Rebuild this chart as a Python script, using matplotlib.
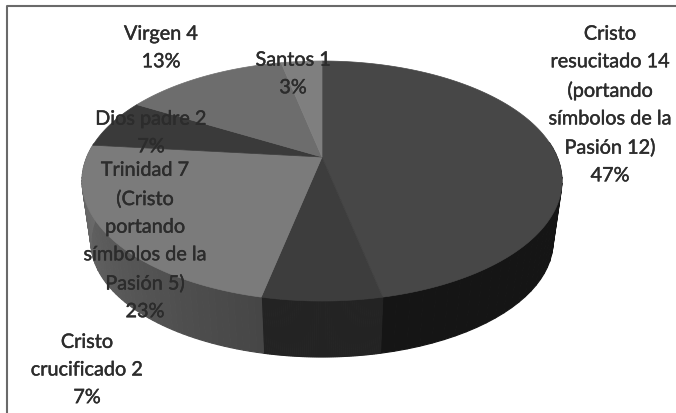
import matplotlib
matplotlib.use('Agg')
import matplotlib.pyplot as plt
import matplotlib.patheffects as pe
from matplotlib.patches import Polygon
import numpy as np

# Slice values, clockwise from 12 o'clock
values = [14, 2, 7, 2, 4, 1]
top_colors = ['#474747', '#3d3d3d', '#7b7b7b', '#3a3a3a', '#6d6d6d', '#7f7f7f']
side_dark = ['#151515', '#232323', '#464646', '#5a5a5a', '#5a5a5a', '#5a5a5a']
side_light = ['#151515', '#232323', '#6e6e6e', '#6e6e6e', '#6e6e6e', '#6e6e6e']

labels = ['Cristo\nresucitado 14\n(portando\nsímbolos de la\nPasión 12)\n47%',
          'Cristo\ncrucificado 2\n7%',
          'Trinidad 7\n(Cristo\nportando\nsímbolos de la\nPasión 5)\n23%',
          'Dios padre 2\n7%',
          'Virgen 4\n13%',
          'Santos 1\n3%']
label_x = [610, 87, 145, 151, 161, 293]
label_y = [106, 371, 242, 134, 49, 75]

# pie geometry in pixels
cx, cy, rx, ry = 322, 182, 240, 120
bx, by, brx, bry = 322, 243, 231, 115
tilt = 0.2   # moves the apex off the centre of the ellipse


def project(theta):
    # theta clockwise from the top, perspective map of the unit circle
    u, v = np.sin(theta), np.cos(theta)
    w = 1 + tilt * v
    return u * np.sqrt(1 - tilt**2) / w, (v + tilt) / w


def top_edge(theta):
    x, y = project(theta)
    return cx + rx * x, cy - ry * y


def bottom_edge(theta):
    x, y = project(theta)
    return bx + brx * x, by - bry * y


def mix(c1, c2, t):
    a = np.array(matplotlib.colors.to_rgb(c1))
    b = np.array(matplotlib.colors.to_rgb(c2))
    return a + (b - a) * t


fig = plt.figure(figsize=(6.76, 4.14), dpi=100)
ax = fig.add_axes([0, 0, 1, 1])
ax.set_xlim(0, 676)
ax.set_ylim(414, 0)
ax.axis('off')

# frame, only top and left are visible
ax.plot([7, 7, 676], [414, 7, 7], color='#6a6a6a', lw=1.5, zorder=1)

edges = np.cumsum([0] + values) / sum(values) * 2 * np.pi

# side wall, split in strips so the shading can change along it
for i in range(len(values)):
    th = np.linspace(edges[i], edges[i + 1], 60)
    for j in range(len(th) - 1):
        a, b = th[j], th[j + 1]
        # only the front half of the wall shows
        if np.cos((a + b) / 2) > 0.12:
            continue
        t = (j + 0.5) / (len(th) - 1)
        x1, y1 = top_edge(a)
        x2, y2 = top_edge(b)
        x3, y3 = bottom_edge(b)
        x4, y4 = bottom_edge(a)
        col = mix(side_dark[i], side_light[i], t)
        ax.add_patch(Polygon([(x1, y1), (x2, y2), (x3, y3), (x4, y4)],
                             facecolor=col, edgecolor=col, lw=0.8, zorder=2))

# top face
apex = (cx, cy - ry * tilt)
for i in range(len(values)):
    th = np.linspace(edges[i], edges[i + 1], 120)
    xs, ys = top_edge(th)
    pts = [apex] + list(zip(xs, ys))
    ax.add_patch(Polygon(pts, facecolor=top_colors[i], edgecolor=top_colors[i],
                         lw=0.5, zorder=3))

for lab, x, y in zip(labels, label_x, label_y):
    ax.text(x, y, lab, ha='center', va='center', ma='center', family='Lato',
            fontsize=14.3, color='#2c2c2c', linespacing=1.76, zorder=4,
            path_effects=[pe.withStroke(linewidth=0.3, foreground='#2c2c2c')])

plt.savefig('out.png', dpi=100)
